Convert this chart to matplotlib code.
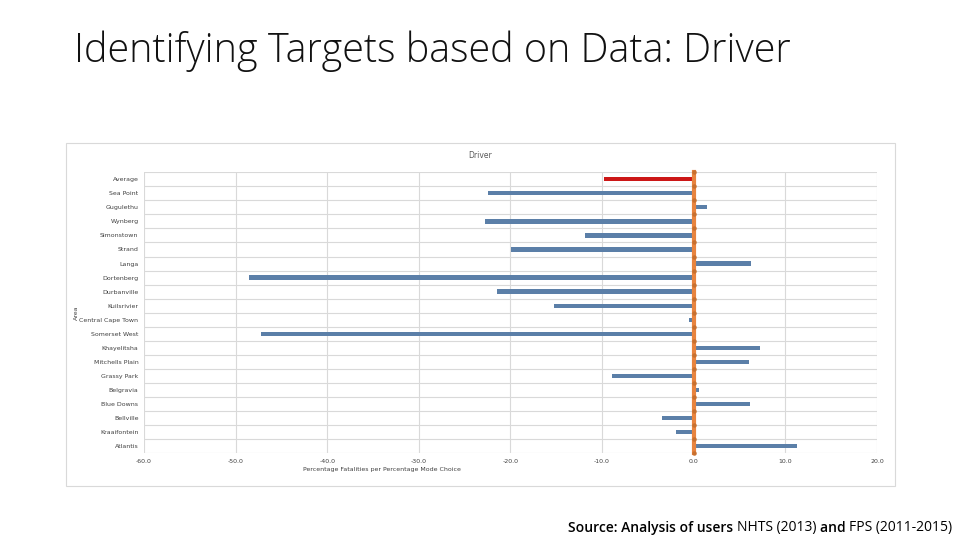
import matplotlib
matplotlib.use("Agg")
import matplotlib.pyplot as plt
from matplotlib.patches import Rectangle
import numpy as np

areas = ["Average", "Sea Point", "Gugulethu", "Wynberg", "Simonstown", "Strand",
         "Langa", "Dortenberg", "Durbanville", "Kuilsrivier", "Central Cape Town",
         "Somerset West", "Khayelitsha", "Mitchells Plain", "Grassy Park",
         "Belgravia", "Blue Downs", "Bellville", "Kraaifontein", "Atlantis"]
values = [-9.8, -22.5, 1.5, -22.8, -11.9, -19.9, 6.3, -48.5, -21.5, -15.3, -0.5,
          -47.2, 7.2, 6.0, -8.9, 0.6, 6.1, -3.5, -1.9, 11.3]
xticks = [-60, -50, -40, -30, -20, -10, 0, 10, 20]
xtick_labels = ["-60.0", "-50.0", "-40.0", "-30.0", "-20.0", "-10.0", "0.0", "10.0", "20.0"]

BLUE = "#5B7FA8"
RED = "#CC1717"
ORANGE = "#E8843F"

fig = plt.figure(figsize=(9.6, 5.4), dpi=100)
fig.patch.set_facecolor("white")

# chart frame
frame = Rectangle((0.06875, 0.1), 0.8635, 0.635, transform=fig.transFigure,
                  facecolor="white", edgecolor="#D9D9D9", lw=0.8, zorder=-5)
fig.add_artist(frame)

ax = fig.add_axes([0.15, 0.161, 0.7635, 0.52])
ax.set_zorder(2)
ax.patch.set_alpha(0)
n = len(areas)
pos = np.arange(n)
colors = [RED if a == "Average" else BLUE for a in areas]
ax.barh(pos, values, height=0.3, color=colors, zorder=3)
ax.plot([0] * (n + 1), np.arange(n + 1) - 0.5, color=ORANGE, lw=3, zorder=4,
        marker="o", ms=2.2, mfc="#C8702F", mec="#C8702F", clip_on=False)

ax.set_xlim(-60, 20)
ax.set_ylim(n - 0.5, -0.5)
ax.set_xticks(xticks)
ax.set_xticklabels(xtick_labels)
ax.set_yticks(pos)
ax.set_yticklabels(areas)
ax.set_yticks(np.arange(n + 1) - 0.5, minor=True)
ax.grid(axis="x", which="major", color="#D9D9D9", lw=0.8, zorder=0)
ax.grid(axis="y", which="minor", color="#D9D9D9", lw=0.8, zorder=0)
ax.tick_params(axis="both", which="both", length=0, labelsize=4.5, labelcolor="#404040")
ax.tick_params(axis="y", pad=4)
ax.tick_params(axis="x", pad=4)
for s in ax.spines.values():
    s.set_visible(False)

ax.set_xlabel("Percentage Fatalities per Percentage Mode Choice", fontsize=4.5,
              color="#404040", labelpad=1)
ax.xaxis.set_label_coords(0.325, -0.05)
fig.text(0.080, 0.42, "Area", rotation=90, fontsize=4.5, color="#404040",
         ha="center", va="center")
fig.text(0.5, 0.712, "Driver", fontsize=5.5, color="#595959", ha="center", va="center")

fig.text(0.077, 0.905, "Identifying Targets based on Data: Driver", fontsize=28.5,
         family="Open Sans", weight="light", color="#111111", ha="left", va="center")

# source line with mixed weights, laid out right to left
pieces = [("Source: Analysis of users ", "semibold"), ("NHTS (2013) ", "normal"),
          ("and ", "semibold"), ("FPS (2011-2015)", "normal")]
renderer = fig.canvas.get_renderer()
x_right = 0.992 * fig.bbox.width
for txt, w in reversed(pieces):
    t = fig.text(x_right / fig.bbox.width, 0.01, txt, fontsize=10, family="Open Sans",
                 weight=w, color="#000000", ha="right", va="bottom")
    bb = t.get_window_extent(renderer)
    x_right -= bb.width

fig.savefig("out.png", dpi=100)
